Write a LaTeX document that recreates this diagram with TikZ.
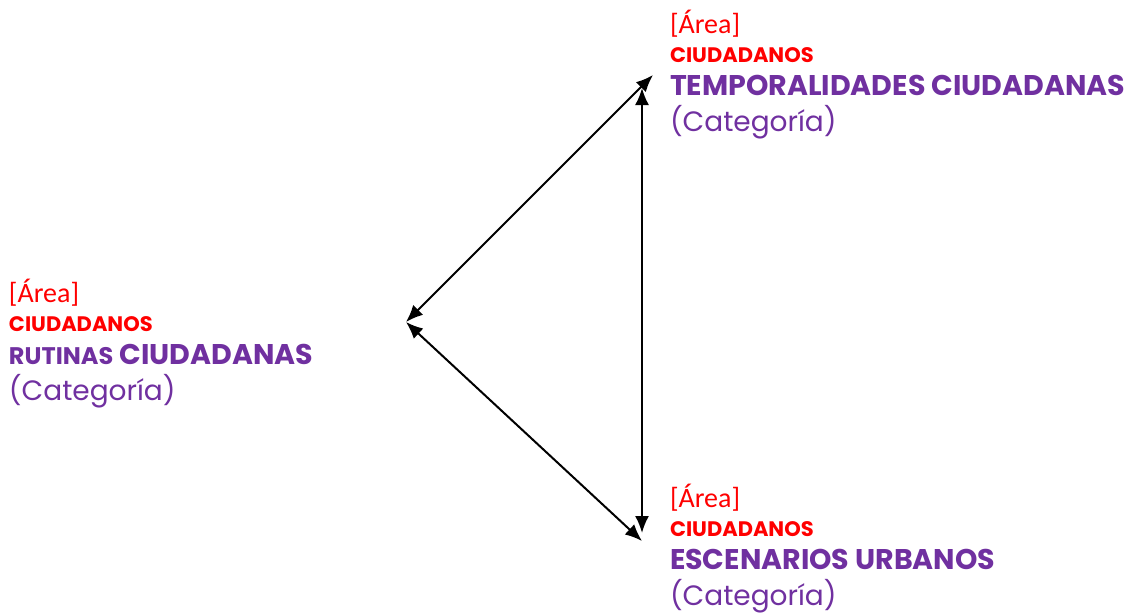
\documentclass[tikz,border=0pt]{standalone}
\usepackage{fontspec}
\setmainfont{Poppins}
\newfontfamily\areafont{Carlito}
\usetikzlibrary{arrows.meta}
\definecolor{catpurple}{RGB}{112,48,160}
\tikzset{
  txt/.style={anchor=base west,inner sep=0pt},
  area/.style={txt,text=red,font=\areafont\fontsize{28}{28}\selectfont},
  ciud/.style={txt,text=red,font=\bfseries\fontsize{21}{21}\selectfont},
  titulo/.style={txt,text=catpurple,font=\bfseries\fontsize{28.5}{28.5}\selectfont},
  categ/.style={txt,text=catpurple,font=\fontsize{28}{28}\selectfont},
}
\begin{document}
\begin{tikzpicture}[x=1pt,y=-1pt,>={Latex[length=17pt,width=14pt]},line width=2pt]
\useasboundingbox (0,0) rectangle (1125,614);
\foreach \x/\y/\name/\titletext in {669/33/temp/{TEMPORALIDADES CIUDADANAS},
    8/302/rut/{{\fontsize{24}{24}\selectfont RUTINAS} CIUDADANAS},
    669/507/esc/{ESCENARIOS URBANOS}}
{
    \node[area] (\name-area) at (\x,\y) {[Área]};
    \node[ciud] (\name-ciud) at (\x,\y+29) {CIUDADANOS};
    \node[titulo] (\name-tit) at (\x,\y+62) {\titletext};
    \node[categ] (\name-cat) at (\x,\y+98) {(Categoría)};
}

% puntas de flecha
\coordinate (rut) at (406,322);
\coordinate (temp) at (653,75);
\coordinate (tempv) at (642,88);
\coordinate (esc) at (642,541);
\coordinate (escv) at (642,533);

\draw[<->] (rut)--(temp);
\draw[<->] (rut)--(esc);
\draw[<->] (tempv)--(escv);
\end{tikzpicture}
\end{document}
